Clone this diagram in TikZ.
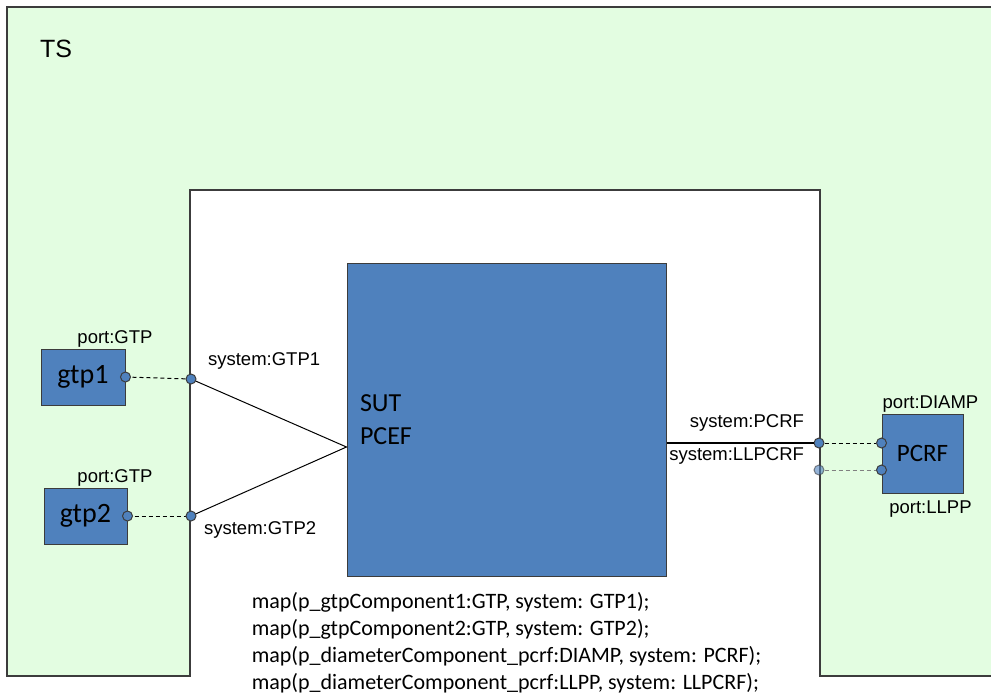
\documentclass[tikz,border=0pt]{standalone}
\usepackage{fontspec}
\setmainfont{Liberation Sans}
\newfontfamily\calibrifont{Carlito}
\usetikzlibrary{positioning,calc}
\definecolor{tsgreen}{RGB}{227,253,225}
\definecolor{compblue}{RGB}{79,129,189}
\definecolor{edgegray}{RGB}{60,60,60}

\begin{document}
\begin{tikzpicture}
  [x=1pt,y=-1pt,
   component/.style={
    rectangle,
    draw=edgegray,
    fill=compblue,
    line width=1pt,
    inner sep=0pt,
    font=\calibrifont\fontsize{28}{32}\selectfont
    },
   portdot/.style={
    circle,
    draw=edgegray,
    fill=compblue,
    line width=1pt,
    minimum size=10pt,
    inner sep=0pt
    },
   lbl/.style={font=\fontsize{18.5}{22}\selectfont, inner sep=1pt},
   link/.style={line width=1pt, dash pattern=on 4pt off 3pt}
  ]
  \useasboundingbox (0,0) rectangle (991,699);

  % cornice TS con il riquadro bianco del sistema
  \fill[tsgreen] (7,7) rectangle (995,676);
  \fill[white] (190,190) rectangle (820,700);
  \draw[edgegray, line width=1.2pt] (995,7) -- (7,7) -- (7,676) -- (190,676)
    -- (190,190) -- (820,190) -- (820,676) -- (995,676);

  \node [font=\fontsize{25}{28}\selectfont] (ts) at (56,49) {TS};

  \node [
    component,
    minimum width=319pt,
    minimum height=313pt,
    text width=293pt,
    align=left,
    font=\calibrifont\fontsize{26}{33}\selectfont
    ]
    (sut) at (506.5,419.5) {SUT\\PCEF};

  \node [component, minimum width=84pt, minimum height=56pt] (gtp1) at (83,377) {gtp1};
  \node [component, minimum width=83pt, minimum height=56pt] (gtp2) at (85.5,516) {gtp2};
  \node [component, minimum width=81pt, minimum height=79pt,
    font=\calibrifont\fontsize{25}{30}\selectfont] (pcrf) at (922.5,453.5) {PCRF};

  \coordinate (sutjoin) at ($(sut.west)+(0,27.5)$);

  \draw[link] (gtp1.east) -- (191,379) coordinate (gtp1link);
  \draw[link] (gtp2.east) -- (191,516) coordinate (gtp2link);
  \draw[line width=1pt] (gtp1link) -- (sutjoin) -- (gtp2link);

  \node [portdot] (gtp1port) at (gtp1.east) {};
  \node [portdot] (gtp2port) at (gtp2.east) {};
  \node [portdot] (sysgtp1) at (gtp1link) {};
  \node [portdot] (sysgtp2) at (gtp2link) {};

  \node [portdot] (syspcrf) at (819,443) {};
  \node [portdot, opacity=0.6] (sysllpcrf) at (819,470) {};
  \node [portdot] (diamp) at (pcrf.west |- syspcrf) {};
  \node [portdot] (llpp) at (pcrf.west |- sysllpcrf) {};

  \draw[line width=1.3pt] (sut.east |- syspcrf) -- (syspcrf);
  \draw[link] (syspcrf) -- (diamp);
  \draw[link, gray] (sysllpcrf) -- (llpp);

  \node [lbl, above=0pt of gtp1.north, xshift=32pt] (gtp1lbl) {port:GTP};
  \node [lbl, above=0pt of gtp2.north, xshift=29.5pt] (gtp2lbl) {port:GTP};
  \node [lbl, above right=5pt and 12pt of sysgtp1] (sysgtp1lbl) {system:GTP1};
  \node [lbl, below right=0pt and 8pt of sysgtp2] (sysgtp2lbl) {system:GTP2};
  \node [lbl, above left=7pt and 10pt of syspcrf] (syspcrflbl) {system:PCRF};
  \node [lbl, below left=-1pt and 10pt of syspcrf] (sysllpcrflbl) {system:LLPCRF};
  \node [lbl, above=0pt of pcrf.north, xshift=8pt] (diamplbl) {port:DIAMP};
  \node [lbl, below=6pt of pcrf.south, xshift=8pt] (llpplbl) {port:LLPP};

  \node [
    below=16pt of sut.south,
    align=left,
    inner sep=0pt,
    font=\calibrifont\fontsize{22}{27}\selectfont
    ]
    (maptext)
    {map(p\_gtpComponent1:GTP, system: GTP1);\\
     map(p\_gtpComponent2:GTP, system: GTP2);\\
     map(p\_diameterComponent\_pcrf:DIAMP, system: PCRF);\\
     map(p\_diameterComponent\_pcrf:LLPP, system: LLPCRF);};
\end{tikzpicture}
\end{document}
